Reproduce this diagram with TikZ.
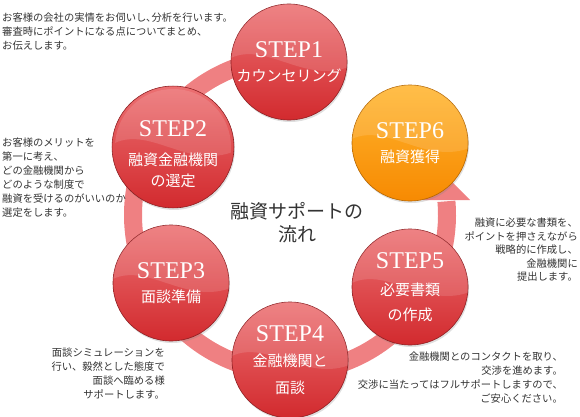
\documentclass[tikz,border=0pt]{standalone}
\usepackage{fontspec}
\setmainfont{Liberation Serif}
\newfontfamily\jpfont{Noto Sans CJK JP}
\usetikzlibrary{shadows}

\definecolor{redtop}{HTML}{EC7072}
\definecolor{redbottom}{HTML}{D22A2E}
\definecolor{rededge}{HTML}{8E1F22}
\definecolor{orangetop}{HTML}{FFB52E}
\definecolor{orangebottom}{HTML}{F78A02}
\definecolor{orangeedge}{HTML}{B46500}
\definecolor{ringpink}{HTML}{EF8082}
\definecolor{notegray}{HTML}{333333}

\newcommand\jpsmall[1]{\jpfont\fontsize{15}{#1}\selectfont}

\tikzset{
  ball/.style={circle, minimum size=116pt, inner sep=0pt, draw=rededge, line width=.6pt,
    top color=redtop, bottom color=redbottom, text=white, align=center,
    font=\fontsize{24}{27}\selectfont,
    drop shadow={shadow xshift=1pt, shadow yshift=-2pt, opacity=.25}},
  goalball/.style={ball, draw=orangeedge, top color=orangetop, bottom color=orangebottom},
  gloss/.style={white, opacity=.13},
  ring/.style={draw=ringpink, line width=18pt},
  note/.style={font=\jpfont\fontsize{10.3}{14}\selectfont, text=notegray, inner sep=0pt},
}

\begin{document}
\begin{tikzpicture}[x=1pt, y=1pt]
  \useasboundingbox (0,0) rectangle (580,416);

  \coordinate (hub) at (290,201);
  \draw[ring] (hub) ++(90:157) arc[start angle=90, end angle=365, radius=157];
  \coordinate (tip) at (447,239);
  \fill[ringpink] (423,216) -- (tip) -- (470,216) -- cycle;

  \node[ball] (s1) at (289,354) {STEP1\\[-3pt]\jpsmall{18}カウンセリング};
  \node[ball] (s2) at (173,269) {\rule{0pt}{31pt}STEP2\\[2pt]\jpsmall{21}融資金融機関\\[-6pt]\jpsmall{21}の選定};
  \node[ball] (s3) at (171,133) {STEP3\\[-3pt]\jpsmall{18}面談準備};
  \node[ball] (s4) at (290,56) {STEP4\\[-2pt]\jpsmall{26}金融機関と\\\jpsmall{26}面談};
  \node[ball] (s5) at (410,129) {STEP5\\[0pt]\jpsmall{24}必要書類\\[-2pt]\jpsmall{24}の作成};
  \node[goalball] (s6) at (410,273) {STEP6\\[-3pt]\jpsmall{18}融資獲得};

  \foreach \s in {s1,s2,s3,s4,s5,s6}{
    \begin{scope}
      \clip (\s) circle[radius=58];
      \fill[gloss, shift={(\s)}] (-62,2) .. controls (-25,24) and (15,-24) .. (62,-4) -- (62,62) -- (-62,62) -- cycle;
    \end{scope}
  }

  \node[align=center, text=notegray, font=\jpfont\fontsize{19}{23}\selectfont] (title) at (297,193) {融資サポートの\\流れ};

  \node[note, anchor=north west, align=left] (n1) at (2,403) {お客様の会社の実情をお伺いし､分析を行います。\\審査時にポイントになる点についてまとめ、\\お伝えします。};
  \node[note, anchor=north west, align=left] (n2) at (2,278) {お客様のメリットを\\第一に考え、\\どの金融機関から\\どのような制度で\\融資を受けるのがいいのか\\選定をします。};
  \node[note, anchor=north east, align=right, font=\jpfont\fontsize{10.3}{13.5}\selectfont] (n5) at (578,198) {融資に必要な書類を、\\ポイントを押さえながら\\戦略的に作成し、\\金融機関に\\提出します。};
  \node[note, anchor=north east, align=right] (n4) at (563,64) {金融機関とのコンタクトを取り、\\交渉を進めます。\\交渉に当たってはフルサポートしますので、\\ご安心ください。};
  \node[note, anchor=north east, align=right] (n3) at (165,68) {面談シミュレーションを\\行い、毅然とした態度で\\面談へ臨める様\\サポートします。};
\end{tikzpicture}
\end{document}
